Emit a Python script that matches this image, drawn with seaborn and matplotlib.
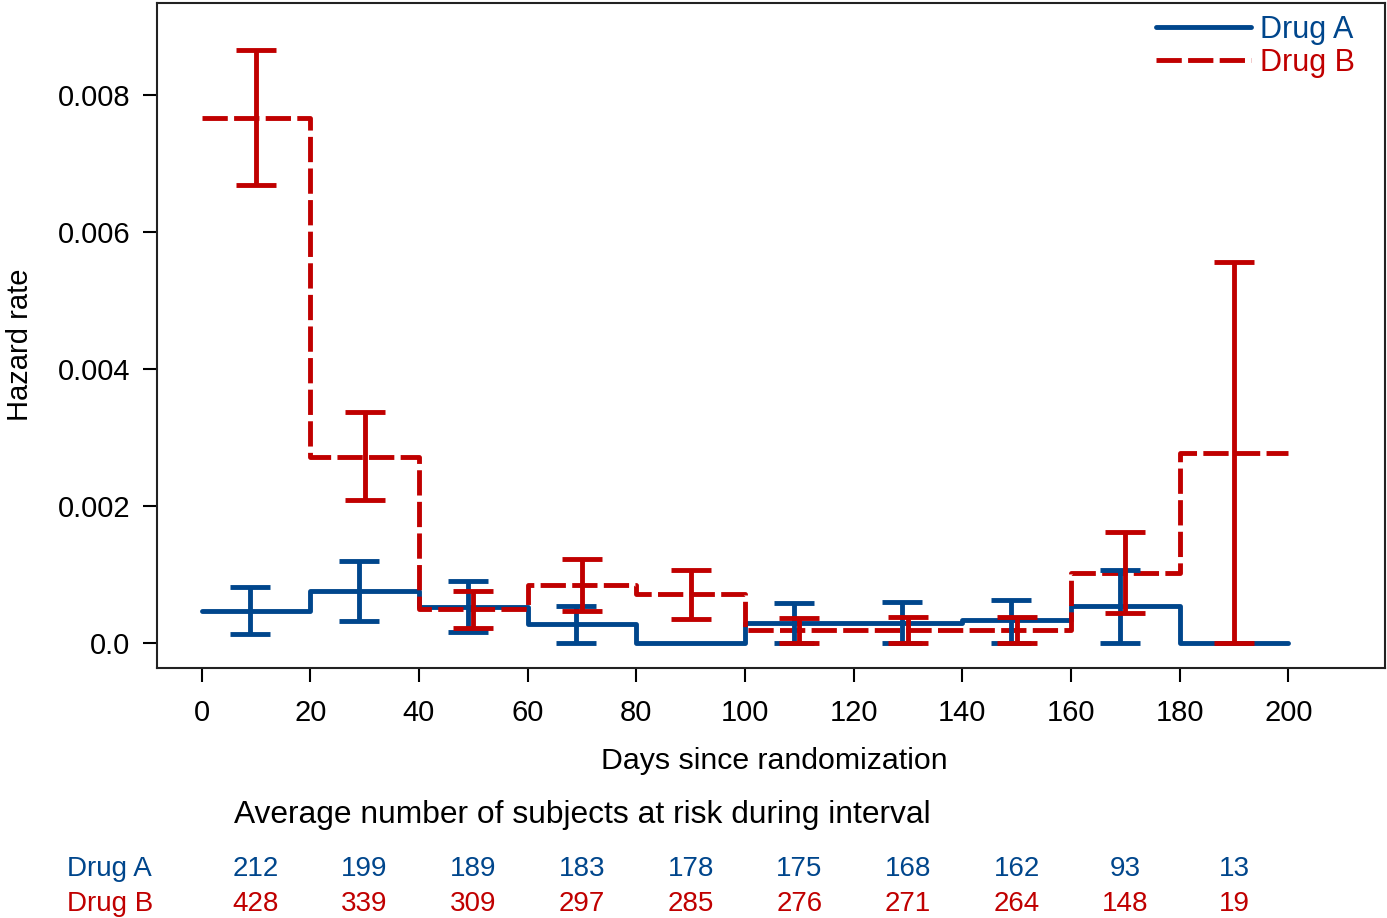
import numpy as np
import pandas as pd
import matplotlib
matplotlib.use("Agg")
import matplotlib.pyplot as plt
import seaborn as sns
from matplotlib.transforms import blended_transform_factory

# ---------------- data ----------------
edges = [0, 20, 40, 60, 80, 100, 120, 140, 160, 180, 200]
mids = [10, 30, 50, 70, 90, 110, 130, 150, 170, 190]

hazard_a = [0.00047, 0.00076, 0.00053, 0.00028, 0.0, 0.000295, 0.000295, 0.00034, 0.00054, 0.0]
lower_a = [0.000135, 0.000325, 0.000165, 0.0, np.nan, 0.0, 0.0, 0.0, 0.0, np.nan]
upper_a = [0.00082, 0.00120, 0.00091, 0.00054, np.nan, 0.00059, 0.00060, 0.00063, 0.00107, np.nan]

hazard_b = [0.00766, 0.00272, 0.00050, 0.00085, 0.00072, 0.00019, 0.00019, 0.00019, 0.00102, 0.00277]
lower_b = [0.00668, 0.00209, 0.00022, 0.00047, 0.000355, 0.0, 0.0, 0.0, 0.00044, 0.0]
upper_b = [0.00866, 0.00337, 0.00076, 0.00123, 0.00107, 0.00037, 0.00038, 0.00038, 0.00162, 0.00556]

risk_a = [212, 199, 189, 183, 178, 175, 168, 162, 93, 13]
risk_b = [428, 339, 309, 297, 285, 276, 271, 264, 148, 19]

groups = ["Drug A", "Drug B"]
xtick_vals = [0, 20, 40, 60, 80, 100, 120, 140, 160, 180, 200]
ytick_vals = [0.0, 0.002, 0.004, 0.006, 0.008]
ytick_labels = ["0.0", "0.002", "0.004", "0.006", "0.008"]

BLUE = "#00468C"
RED = "#C00000"

# ---------------- style ----------------
sns.set_style("white")
plt.rcParams["font.family"] = ["Liberation Sans", "DejaVu Sans"]

W, H = 1387, 918
fig = plt.figure(figsize=(W / 100, H / 100), dpi=100)
ax = fig.add_axes([157 / W, 1 - 668 / H, (1385 - 157) / W, (668 - 3) / H])

lw = 3.5

df_a = pd.DataFrame({"x": edges, "y": hazard_a + [hazard_a[-1]]})
df_b = pd.DataFrame({"x": edges, "y": hazard_b + [hazard_b[-1]]})

sns.lineplot(data=df_a, x="x", y="y", ax=ax, color=BLUE, lw=lw,
             drawstyle="steps-post", errorbar=None, sort=False, label="Drug A",
             legend=False)
sns.lineplot(data=df_b, x="x", y="y", ax=ax, color=RED, lw=lw,
             drawstyle="steps-post", errorbar=None, sort=False, label="Drug B",
             linestyle=(0, (5.2, 1.3)), legend=False)

ha = np.array(hazard_a)
la = np.array(lower_a)
ua = np.array(upper_a)
hb = np.array(hazard_b)
lb = np.array(lower_b)
ub = np.array(upper_b)
mids_arr = np.array(mids, dtype=float)

ax.errorbar(mids_arr - 1.0, ha, yerr=[ha - la, ua - ha], fmt="none",
            ecolor=BLUE, elinewidth=lw, capsize=14.4, capthick=lw, zorder=3)
ax.errorbar(mids_arr, hb, yerr=[hb - lb, ub - hb], fmt="none",
            ecolor=RED, elinewidth=lw, capsize=14.4, capthick=lw, zorder=4)

ax.set_xlim(-8.2, 217.8)
ax.set_ylim(-0.000364, 0.009344)
ax.set_xticks(xtick_vals)
ax.set_xticklabels([str(v) for v in xtick_vals])
ax.set_yticks(ytick_vals)
ax.set_yticklabels(ytick_labels)

ax.tick_params(axis="both", which="major", direction="out", length=10, width=1.5,
               labelsize=21, colors="black", bottom=True, left=True)
ax.tick_params(axis="y", pad=9)
ax.tick_params(axis="x", pad=12)

for s in ax.spines.values():
    s.set_color("#222222")
    s.set_linewidth(1.5)

ax.set_xlabel("Days since randomization", fontsize=21.8, va="center", color="black")
ax.xaxis.set_label_coords(0.503, (668 - 761) / 665)
ax.set_ylabel("Hazard rate", fontsize=21, va="center", ha="center", color="black")
ax.yaxis.set_label_coords((20 - 157) / 1228, (668 - 345) / 665)

leg = ax.legend(loc="upper right", frameon=False, fontsize=22,
                handlelength=3.1, handletextpad=0.3, labelspacing=0.1,
                borderpad=0.0, borderaxespad=0.0,
                bbox_to_anchor=(1355 / W, 1 - 15 / H), bbox_transform=fig.transFigure)
for txt, c in zip(leg.get_texts(), [BLUE, RED]):
    txt.set_color(c)

# ---------------- risk table ----------------
fig.text(234 / W, 1 - 815 / H, "Average number of subjects at risk during interval",
         fontsize=22.9, ha="left", va="center", color="black")
fig.text(67 / W, 1 - 869 / H, groups[0], fontsize=20, ha="left", va="center", color=BLUE)
fig.text(67 / W, 1 - 904 / H, groups[1], fontsize=20, ha="left", va="center", color=RED)

trans = blended_transform_factory(ax.transData, fig.transFigure)
for m, na, nb in zip(mids, risk_a, risk_b):
    ax.text(m, 1 - 869 / H, str(na), transform=trans, fontsize=20, ha="center",
            va="center", color=BLUE, clip_on=False)
    ax.text(m, 1 - 904 / H, str(nb), transform=trans, fontsize=20, ha="center",
            va="center", color=RED, clip_on=False)

fig.savefig("out.png", dpi=100)
